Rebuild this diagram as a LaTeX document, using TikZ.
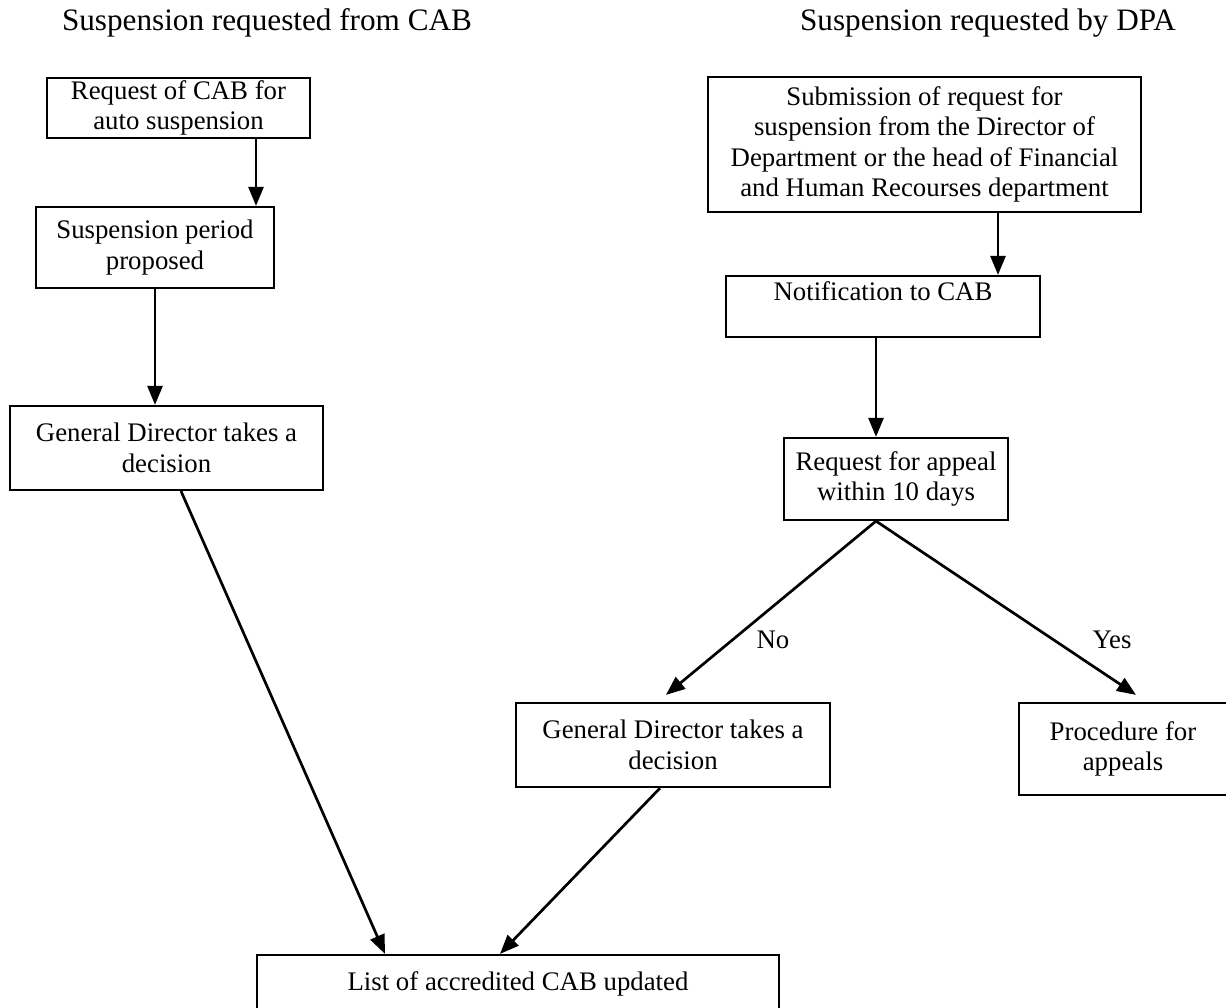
\documentclass[tikz,border=0pt]{standalone}
\usepackage{fontspec}
\setmainfont{Liberation Serif}
\usetikzlibrary{arrows.meta,calc}
\begin{document}
\begin{tikzpicture}[x=1pt,y=-1pt,
  box/.style={draw,line width=2.2pt,inner sep=0pt,align=center,
    font=\fontsize{26.8}{30.5}\selectfont},
  ttl/.style={inner sep=0pt,font=\fontsize{31.2}{36}\selectfont},
  lbl/.style={inner sep=0pt,font=\fontsize{26.8}{30.5}\selectfont},
  arr/.style={line width=2.7pt,-{Triangle[length=19pt,width=15pt]}},
  ln/.style={line width=2.7pt}]
\useasboundingbox (0,0) rectangle (1226,1008);
\node[ttl] (t1) at (267,23) {Suspension requested from CAB};
\node[ttl] (t2) at (988,23) {Suspension requested by DPA};

\node[box,minimum width=263pt,minimum height=60pt] (b1) at (178.5,108) {Request of CAB for\\auto suspension};
\node[box,minimum width=238pt,minimum height=81pt] (b2) at (155,247.5) {Suspension period\\proposed};
\node[box,minimum width=313pt,minimum height=84pt] (b3) at (166.5,448) {General Director takes a\\decision};

\node[box,minimum width=433pt,minimum height=135pt] (s1) at (924.5,144.5) {Submission of request for\\suspension from the Director of\\Department or the head of Financial\\and Human Recourses department};
\node[box,minimum width=314pt,minimum height=61pt] (s2) at (883,306.5) {Notification to CAB\\[-8pt]\strut};
\node[box,minimum width=224pt,minimum height=82pt] (s3) at (896,479) {Request for appeal\\within 10 days};
\node[box,minimum width=314pt,minimum height=84pt] (s4) at (673,745) {General Director takes a\\decision};
\node[box,minimum width=208pt,minimum height=92pt] (s5) at (1123,749) {Procedure for\\appeals};
\node[box,minimum width=522pt,minimum height=57pt] (l1) at (518,983.5) {List of accredited CAB updated};

\draw[arr] (b1.south -| 256,0) -- (b2.north -| 256,0);
\draw[arr] (b2.south -| 155,0) -- (b3.north -| 155,0);
\draw[arr] (b3.south -| 181,0) -- (l1.north -| 385,0);

\draw[arr] (s1.south -| 998,0) -- (s2.north -| 998,0);
\draw[arr] (s2.south -| 876,0) -- (s3.north -| 876,0);
\coordinate (noTip) at ($(s4.north -| 666,0)+(0,-7)$);
\coordinate (yesTip) at ($(s5.north -| 1136,0)+(0,-7)$);
\draw[arr] (s3.south -| 876,0) -- (noTip);
\draw[arr] (s3.south -| 876,0) -- (yesTip);
\draw[arr] (s4.south -| 660,0) -- (l1.north -| 500,0);

\node[lbl] (no) at (773,640) {No};
\node[lbl] (yes) at (1112,640) {Yes};
\end{tikzpicture}
\end{document}
